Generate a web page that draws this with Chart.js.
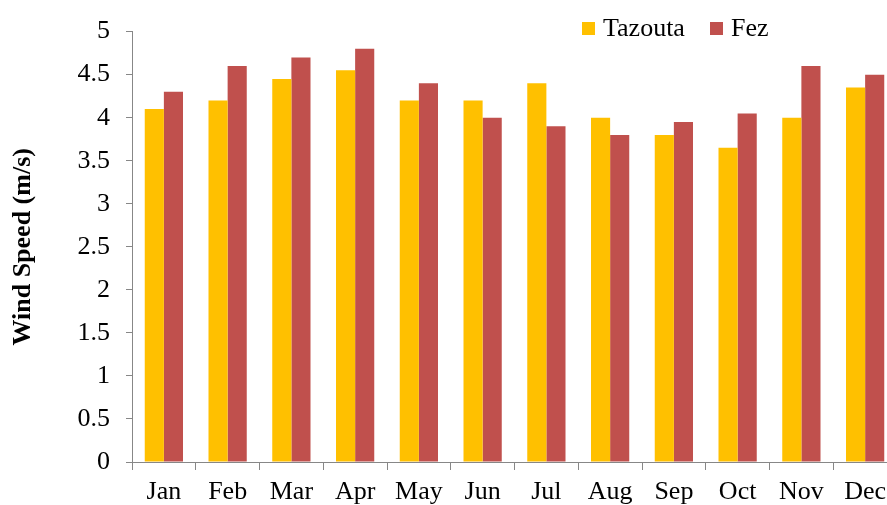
<!DOCTYPE html>
<html>
<head>
<meta charset="utf-8">
<script src="https://cdn.jsdelivr.net/npm/chart.js@4.4.1/dist/chart.umd.min.js"></script>
<style>
  html, body { margin: 0; padding: 0; background: #fff; overflow: hidden; }
  #wrap { position: relative; width: 900px; height: 505px; }
  #legend { position: absolute; top: 13px; left: 582px; font-family: "Liberation Serif", "Times New Roman", serif; font-size: 26px; line-height: 30px; color: #000; white-space: nowrap; }
  #legend span.item { display: inline-block; margin-right: 25px; }
  #legend i { display: inline-block; width: 13px; height: 13px; margin-right: 8px; vertical-align: 1px; }
</style>
</head>
<body>
<div id="wrap">
  <canvas id="chart" width="900" height="505"></canvas>
  <div id="legend"></div>
</div>
<script>
  // Monthly mean wind speed (m/s)
  var months = ["Jan", "Feb", "Mar", "Apr", "May", "Jun", "Jul", "Aug", "Sep", "Oct", "Nov", "Dec"];
  var tazouta = [4.1, 4.2, 4.45, 4.55, 4.2, 4.2, 4.4, 4.0, 3.8, 3.65, 4.0, 4.35];
  var fez = [4.3, 4.6, 4.7, 4.8, 4.4, 4.0, 3.9, 3.8, 3.95, 4.05, 4.6, 4.5];
  var seriesNames = ["Tazouta", "Fez"];
  var seriesColors = ["#FFC000", "#C0504D"];

  var serif = "'Liberation Serif', 'Times New Roman', serif";
  var axisGray = "#878787";

  // html legend, top right
  var leg = "";
  seriesNames.forEach(function (n, i) {
    leg += '<span class="item"><i style="background:' + seriesColors[i] + '"></i>' + n + "</span>";
  });
  document.getElementById("legend").innerHTML = leg;

  new Chart(document.getElementById("chart").getContext("2d"), {
    type: "bar",
    data: {
      labels: months,
      datasets: [
        { label: seriesNames[0], data: tazouta, backgroundColor: seriesColors[0] },
        { label: seriesNames[1], data: fez, backgroundColor: seriesColors[1] }
      ]
    },
    options: {
      responsive: false,
      animation: false,
      devicePixelRatio: 1,
      layout: { padding: { top: 30, right: 3, left: 0, bottom: 0 } },
      datasets: { bar: { categoryPercentage: 0.6, barPercentage: 1.0 } },
      plugins: { legend: { display: false }, tooltip: { enabled: false } },
      scales: {
        x: {
          afterFit: function (s) { s.height = 43; },
          grid: { drawOnChartArea: false, drawTicks: true, tickLength: 8, color: axisGray },
          border: { display: true, color: axisGray, width: 1 },
          ticks: { color: "#000", font: { family: serif, size: 26 }, padding: 7, maxRotation: 0 }
        },
        y: {
          min: 0,
          max: 5,
          afterFit: function (s) { s.width = 132; },
          grid: { drawOnChartArea: false, drawTicks: true, tickLength: 6, color: axisGray },
          border: { display: true, color: axisGray, width: 1 },
          ticks: {
            stepSize: 0.5,
            color: "#000",
            font: { family: serif, size: 26 },
            padding: 16,
            callback: function (v) { return String(Math.round(v * 10) / 10); }
          },
          title: {
            display: true,
            text: "Wind Speed (m/s)",
            color: "#000",
            font: { family: serif, size: 26, weight: "bold" },
            padding: { top: 8, bottom: 0 }
          }
        }
      }
    }
  });
</script>
</body>
</html>
